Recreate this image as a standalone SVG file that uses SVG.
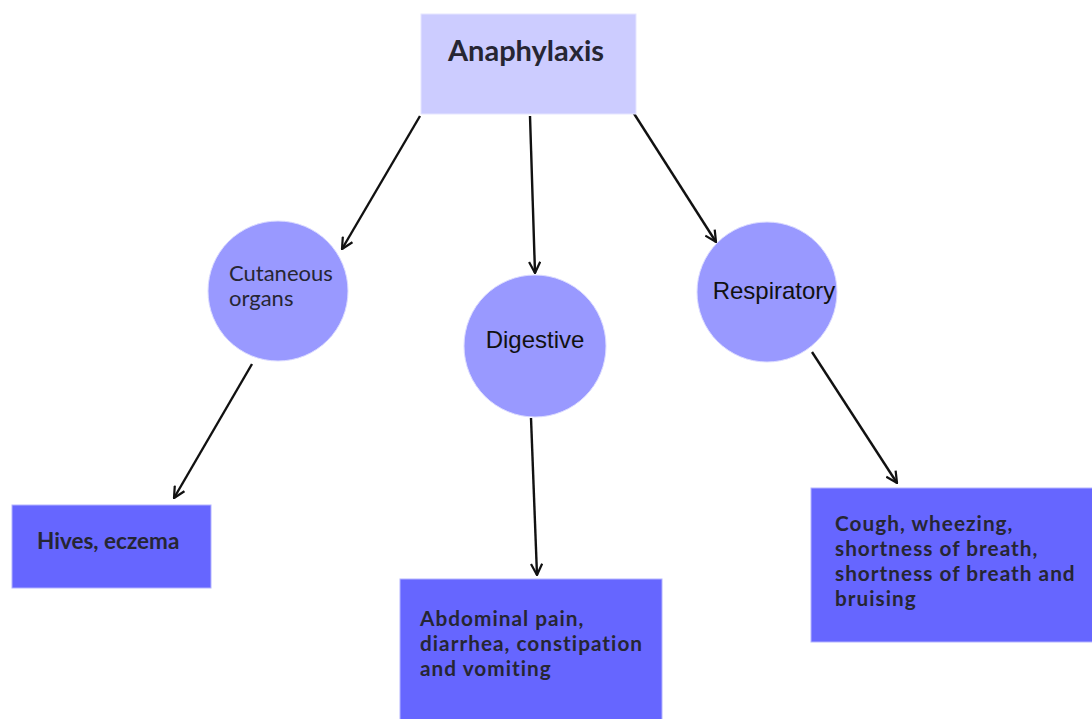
<svg xmlns="http://www.w3.org/2000/svg" width="1092" height="719" viewBox="0 0 1092 719">
<defs>
<style>
.top{fill:#ccccff;stroke:#e6e6ff;stroke-width:1}
.circ{fill:#9999ff;stroke:#dcdcff;stroke-width:1}
.leaf{fill:#6666ff;stroke:#b3b3ff;stroke-width:1}
.bold{font-family:Lato,"Open Sans","Liberation Sans",sans-serif;font-weight:bold;fill:#262633}
.multi{font-size:20.8px;letter-spacing:1px}
.reg{font-family:Lato,"Liberation Sans",sans-serif;fill:#262633}
.ar{font-family:"Liberation Sans",Arial,sans-serif;fill:#111111}
.conn{stroke:#111;stroke-width:2.4;fill:none;marker-end:url(#arr)}
</style>
<marker id="arr" viewBox="0 0 14 14" refX="13" refY="7" markerWidth="13" markerHeight="13" orient="auto" markerUnits="userSpaceOnUse">
<path d="M1,1 L13,7 L1,13" fill="none" stroke="#111" stroke-width="2.4"/>
</marker>
</defs>
<rect width="1092" height="719" fill="#ffffff"/>
<g id="connectors">
<line class="conn" x1="420" y1="116" x2="342" y2="249"/>
<line class="conn" x1="530" y1="116" x2="535" y2="273"/>
<line class="conn" x1="633" y1="112" x2="716" y2="242"/>
<line class="conn" x1="252" y1="364" x2="174" y2="498"/>
<line class="conn" x1="531" y1="418" x2="537" y2="575"/>
<line class="conn" x1="812" y1="352" x2="897" y2="483"/>
</g>
<g id="anaphylaxis">
<rect class="top" x="421" y="14" width="215" height="100"/>
<text class="bold" x="526" y="61" font-size="29" text-anchor="middle">Anaphylaxis</text>
</g>
<g id="cutaneous">
<circle class="circ" cx="278" cy="291" r="70"/>
<text class="reg" x="229" y="281" font-size="22">Cutaneous</text>
<text class="reg" x="229" y="306" font-size="22">organs</text>
</g>
<g id="digestive">
<circle class="circ" cx="535" cy="346" r="71"/>
<text class="ar" x="535" y="348" font-size="24" text-anchor="middle">Digestive</text>
</g>
<g id="respiratory">
<circle class="circ" cx="767" cy="292" r="70"/>
<text class="ar" x="774" y="299" font-size="24" text-anchor="middle">Respiratory</text>
</g>
<g id="hives">
<rect class="leaf" x="12" y="505" width="199" height="83"/>
<text class="bold" x="37" y="549" font-size="22.5">Hives, eczema</text>
</g>
<g id="abdominal">
<rect class="leaf" x="400" y="579" width="262" height="141"/>
<text class="bold multi"><tspan x="420" y="626">Abdominal pain,</tspan><tspan x="420" y="651">diarrhea, constipation</tspan><tspan x="420" y="676">and vomiting</tspan></text>
</g>
<g id="cough">
<rect class="leaf" x="811" y="488" width="282" height="154"/>
<text class="bold multi"><tspan x="835" y="531">Cough, wheezing,</tspan><tspan x="835" y="556">shortness of breath,</tspan><tspan x="835" y="581">shortness of breath and</tspan><tspan x="835" y="606">bruising</tspan></text>
</g>
</svg>
